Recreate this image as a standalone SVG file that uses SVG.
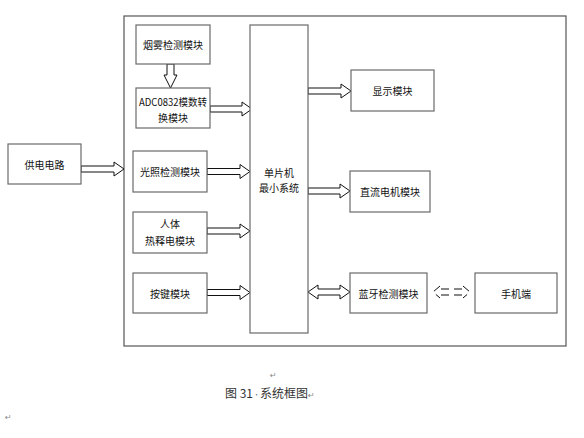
<svg xmlns="http://www.w3.org/2000/svg" width="584" height="438" viewBox="0 0 584 438">
<style>
.box{fill:#fff;stroke:#6a6a6a;stroke-width:1.2}
.frame{fill:none;stroke:#555;stroke-width:1.2}
.t{font-family:"Noto Sans CJK SC","Noto Sans CJK JP",sans-serif;font-size:10px;fill:#111;text-anchor:middle;dominant-baseline:central}
.ar{fill:#fff;stroke:#111;stroke-width:1}
.dash{fill:none;stroke:#111;stroke-width:1;stroke-dasharray:8,5}
.cap{font-family:"Noto Sans CJK SC",sans-serif;font-size:12px;fill:#333}
.ret{font-family:"DejaVu Sans",sans-serif;font-size:8px;fill:#888}
</style>
<rect width="584" height="438" fill="#fff"/>
<rect class="frame" x="124" y="16" width="442" height="330"/>
<g id="connectors">
<path class="ar" d="M81,166 H114 V162 L124,169 L114,176 V172 H81 Z"/>
<path class="ar" d="M167,64 V75 H164 L170.5,88 L177,75 H174 V64 Z"/>
<path class="ar" d="M210,106 H242 V102 L252,109 L242,116 V112 H210 Z"/>
<path class="ar" d="M207,168.5 H240 V164.5 L250,171.5 L240,178.5 V174.5 H207 Z"/>
<path class="ar" d="M207,228 H240 V224 L250,231 L240,238 V234 H207 Z"/>
<path class="ar" d="M207,289.5 H240 V285.5 L250,292.5 L240,299.5 V295.5 H207 Z"/>
<path class="ar" d="M308,88 H341 V84 L351,91 L341,98 V94 H308 Z"/>
<path class="ar" d="M308,188 H340 V184 L350,191 L340,198 V194 H308 Z"/>
<path class="ar" d="M308,292 L318,285 V289 H340 V285 L350,292 L340,299 V295 H318 V299 Z"/>
<g id="dashed-link">
<path class="dash" d="M440,286 L433,292 L440,298"/>
<path class="dash" d="M463,286 L470,292 L463,298"/>
<path class="dash" d="M441,289 H462" stroke-dasharray="6,9"/>
<path class="dash" d="M441,295 H462" stroke-dasharray="0,8,7,20"/>
</g>
</g>
<g id="power"><rect class="box" x="8" y="144" width="73" height="40"/><text class="t" x="44.5" y="164">供电电路</text></g>
<g id="smoke"><rect class="box" x="136" y="25" width="74" height="39"/><text class="t" x="173" y="44.5">烟雾检测模块</text></g>
<g id="adc"><rect class="box" x="136" y="88" width="74" height="40"/><text class="t" x="173" y="101" font-size="9.5" textLength="68" lengthAdjust="spacingAndGlyphs">ADC0832模数转</text><text class="t" x="173" y="117">换模块</text></g>
<g id="light"><rect class="box" x="133" y="151" width="74" height="41"/><text class="t" x="170" y="171.5">光照检测模块</text></g>
<g id="pir"><rect class="box" x="133" y="212" width="74" height="41"/><text class="t" x="170" y="223">人体</text><text class="t" x="170" y="240">热释电模块</text></g>
<g id="key"><rect class="box" x="133" y="273" width="74" height="40"/><text class="t" x="170" y="293">按键模块</text></g>
<g id="mcu"><rect class="box" x="250" y="25" width="58" height="308"/><text class="t" x="279" y="172">单片机</text><text class="t" x="279" y="187">最小系统</text></g>
<g id="display"><rect class="box" x="351" y="70" width="83" height="41"/><text class="t" x="392.5" y="90.5">显示模块</text></g>
<g id="motor"><rect class="box" x="350" y="171" width="80" height="41"/><text class="t" x="390" y="191.5">直流电机模块</text></g>
<g id="bt"><rect class="box" x="350" y="273" width="77" height="40"/><text class="t" x="388.5" y="293">蓝牙检测模块</text></g>
<g id="phone"><rect class="box" x="475" y="273" width="82" height="40"/><text class="t" x="516" y="293">手机端</text></g>
<text class="ret" x="270" y="378">↵</text>
<text class="cap" x="225" y="398">图 31<tspan font-size="7" fill="#777" dy="-1">·</tspan><tspan dy="1">系统框图</tspan><tspan class="ret">↵</tspan></text>
<text class="ret" x="5" y="420">↵</text>
</svg>
